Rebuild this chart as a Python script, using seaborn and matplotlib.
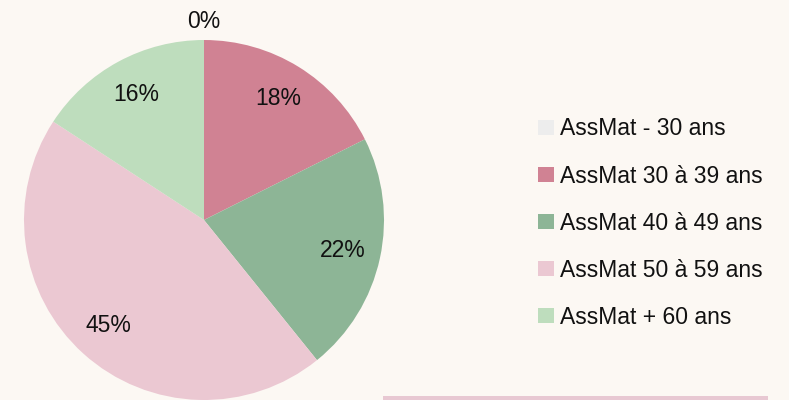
import numpy as np
import matplotlib
matplotlib.use("Agg")
import matplotlib.pyplot as plt
import seaborn as sns
from matplotlib.patches import Rectangle, Patch

sns.set_theme(style="white")
plt.rcParams['font.family'] = ['Liberation Sans Narrow', 'Liberation Sans', 'DejaVu Sans']

categories = ["AssMat - 30 ans", "AssMat 30 à 39 ans", "AssMat 40 à 49 ans",
              "AssMat 50 à 59 ans", "AssMat + 60 ans"]
values = [0.0, 17.6, 21.6, 45.0, 15.8]
colors = ["#EDEDED", "#D08293", "#8DB596", "#EBC8D2", "#BEDDBD"]

bg = "#FCF8F3"
fig = plt.figure(figsize=(7.89, 4.00), dpi=100, facecolor=bg)
W, H = 789, 400
cx, cy, r = 204, 220, 180
ax = fig.add_axes([(cx - r) / W, (H - cy - r) / H, 2 * r / W, 2 * r / H])
ax.set_facecolor(bg)

wedges, texts, autotexts = ax.pie(
    values, colors=colors, startangle=90, counterclock=False,
    autopct=lambda p: f"{p:.0f}%", pctdistance=0.79,
    wedgeprops=dict(linewidth=0),
    textprops=dict(fontsize=16.5, color="#111111"))
ax.set_xlim(-1, 1)
ax.set_ylim(-1, 1)
ax.set_aspect('equal')
ax.axis('off')

# move labels of empty slices outside the pie
for w, t, v in zip(wedges, autotexts, values):
    if v == 0:
        ang = np.deg2rad((w.theta1 + w.theta2) / 2)
        t.set_position((1.1 * np.cos(ang), 1.1 * np.sin(ang)))
    t.set_clip_on(False)

handles = [Patch(facecolor=c, edgecolor='none') for c in colors]
leg = fig.legend(handles, categories, loc='upper left',
                 bbox_to_anchor=(527 / W, 1 - 106 / H), frameon=False,
                 fontsize=16.5, handlelength=0.66, handleheight=0.66,
                 handletextpad=0.28, labelspacing=1.05, borderpad=0)
for t in leg.get_texts():
    t.set_color("#111111")

fig.add_artist(Rectangle((383 / W, 0), (768 - 383) / W, 4 / H,
                         transform=fig.transFigure, facecolor="#E8C8D2",
                         edgecolor='none'))

fig.savefig("out.png", dpi=100, facecolor=bg)
